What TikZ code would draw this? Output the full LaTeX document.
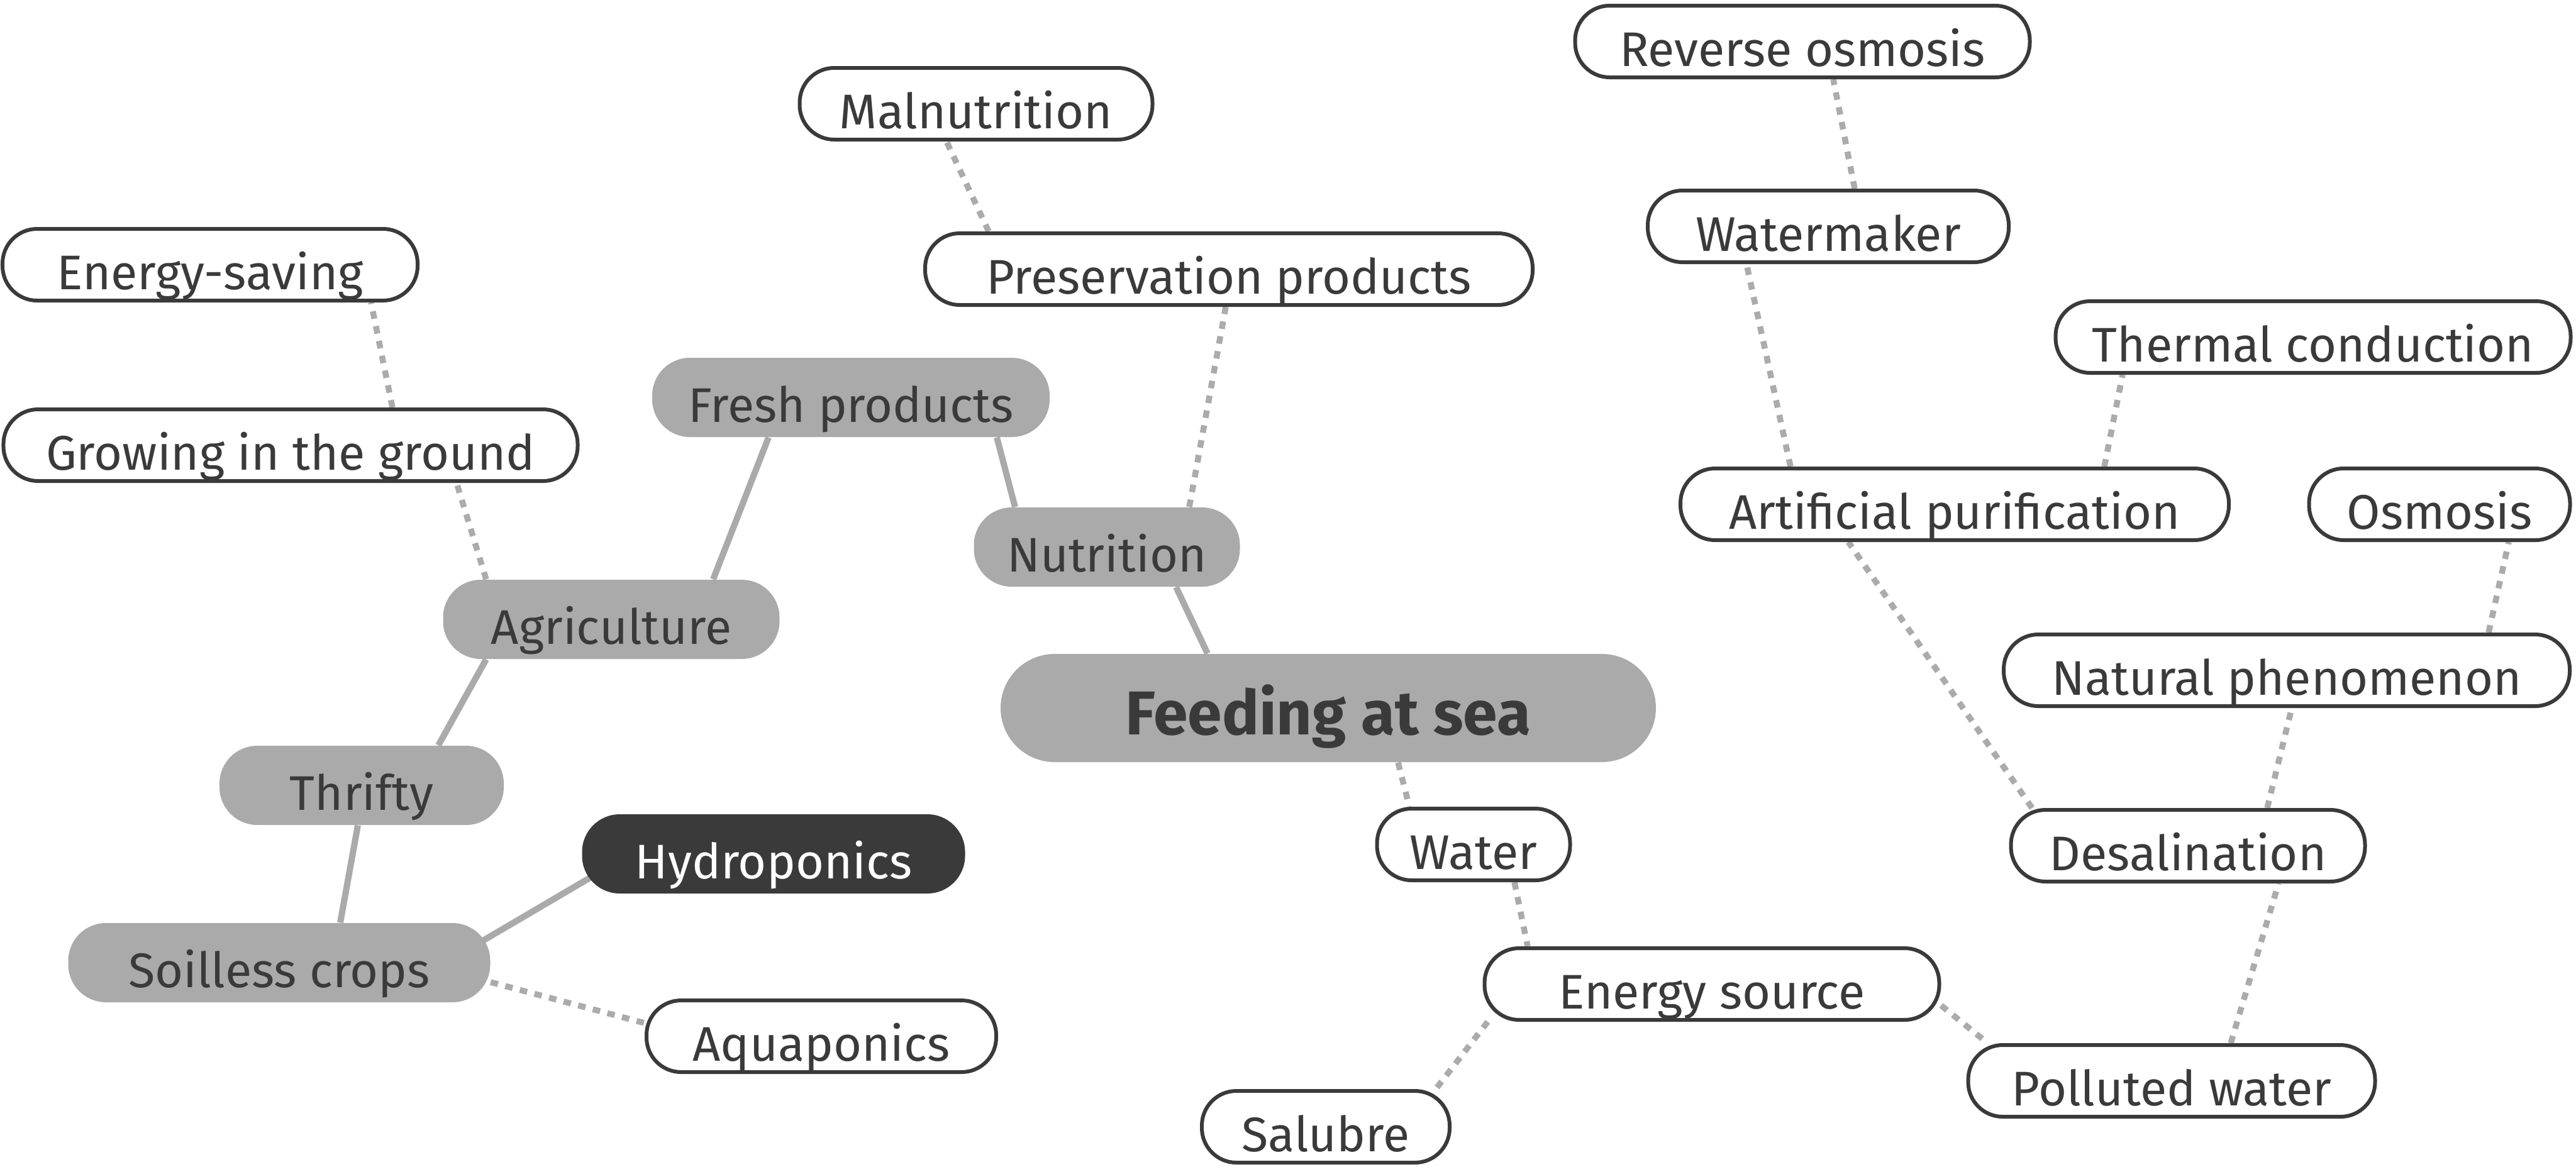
\documentclass[tikz,border=0pt]{standalone}
\usepackage{fontspec}
\setmainfont{Fira Sans}
\usepackage{tikz}
\usetikzlibrary{backgrounds}
\definecolor{inkgray}{HTML}{3A3A3A}
\definecolor{boxgray}{HTML}{AAAAAA}
\definecolor{linkgray}{HTML}{ABABAB}
\tikzstyle{topic} = [rectangle, rounded corners=0.6cm, minimum height=1.26cm, inner sep=0pt, text height=0.88cm, text depth=0.1cm, font=\fontsize{22}{26}\selectfont, text=inkgray]
\tikzstyle{branch} = [topic, fill=boxgray]
\tikzstyle{leaf} = [topic, fill=white, draw=inkgray, line width=0.06cm, minimum height=1.14cm, rounded corners=0.55cm]
\tikzstyle{focus} = [topic, fill=inkgray, text=white]
\tikzstyle{solidlink} = [boxgray, line width=0.1cm]
\tikzstyle{dotlink} = [linkgray, line width=0.095cm, dash pattern=on 0.12cm off 0.12cm]

\begin{document}
\begin{tikzpicture}
        \useasboundingbox (0,0) rectangle (40.96,-18.55);

        % Centre
        \node[branch, minimum width=10.42cm, minimum height=1.72cm, rounded corners=0.86cm, text height=1.0cm, text depth=0.16cm, font=\fontsize{28}{32}\selectfont\bfseries] (feed) at (21.12,-11.26) {Feeding at sea};

        % Left side
        \node[branch, minimum width=4.23cm] (nutr) at (17.60,-8.70) {Nutrition};
        \node[branch, minimum width=6.32cm] (fresh) at (13.53,-6.32) {Fresh products};
        \node[leaf, minimum width=9.66cm] (pres) at (19.54,-4.28) {Preservation products};
        \node[leaf, minimum width=5.61cm] (maln) at (15.52,-1.65) {Malnutrition};
        \node[branch, minimum width=5.35cm] (agri) at (9.72,-9.85) {Agriculture};
        \node[leaf, minimum width=9.13cm] (grow) at (4.62,-7.08) {Growing in the ground};
        \node[leaf, minimum width=6.60cm] (ener) at (3.34,-4.21) {Energy-saving};
        \node[branch, minimum width=4.52cm] (thri) at (5.75,-12.49) {Thrifty};
        \node[branch, minimum width=6.71cm] (soil) at (4.44,-15.31) {Soilless crops};
        \node[focus, minimum width=6.09cm] (hydr) at (12.30,-13.58) {Hydroponics};
        \node[leaf, minimum width=5.56cm] (aqua) at (13.06,-16.48) {Aquaponics};

        % Right side
        \node[leaf, minimum width=3.07cm] (watr) at (23.43,-13.43) {Water};
        \node[leaf, minimum width=7.23cm] (esrc) at (27.22,-15.65) {Energy source};
        \node[leaf, minimum width=3.94cm] (salu) at (21.08,-17.92) {Salubre};
        \node[leaf, minimum width=6.47cm] (poll) at (34.53,-17.19) {Polluted water};
        \node[leaf, minimum width=5.63cm] (desa) at (34.79,-13.45) {Desalination};
        \node[leaf, minimum width=9.00cm] (natu) at (36.36,-10.66) {Natural phenomenon};
        \node[leaf, minimum width=4.15cm] (osmo) at (38.79,-8.02) {Osmosis};
        \node[leaf, minimum width=8.72cm] (arti) at (31.08,-8.02) {Artificial purification};
        \node[leaf, minimum width=8.19cm] (ther) at (36.78,-5.36) {Thermal conduction};
        \node[leaf, minimum width=5.74cm] (wmkr) at (29.07,-3.60) {Watermaker};
        \node[leaf, minimum width=7.23cm] (revo) at (28.66,-0.66) {Reverse osmosis};

        \begin{scope}[on background layer]
        % Links - solid
        \draw[solidlink] ([xshift=-1.92cm]feed.north) -- ([xshift=1.10cm]nutr.south);
        \draw[solidlink] ([xshift=-1.46cm]nutr.north) -- ([xshift=2.32cm]fresh.south);
        \draw[solidlink] ([xshift=-1.31cm]fresh.south) -- ([xshift=1.62cm]agri.north);
        \draw[solidlink] ([xshift=-1.99cm]agri.south) -- ([xshift=1.22cm]thri.north);
        \draw[solidlink] ([xshift=-0.06cm]thri.south) -- ([xshift=0.97cm]soil.north);
        \draw[solidlink] ([xshift=-0.14cm,yshift=0.34cm]soil.east) -- ([xshift=0.15cm,yshift=-0.37cm]hydr.west);

        % Links - dotted
        \draw[dotlink] ([xshift=1.31cm]nutr.north) -- ([xshift=-0.05cm]pres.south);
        \draw[dotlink] ([xshift=-3.82cm]pres.north) -- ([xshift=-0.47cm]maln.south);
        \draw[dotlink] ([xshift=-1.99cm]agri.north) -- ([xshift=2.64cm]grow.south);
        \draw[dotlink] ([xshift=1.62cm]grow.north) -- ([xshift=2.56cm]ener.south);
        \draw[dotlink] ([yshift=-0.31cm]soil.east) -- ([yshift=0.21cm]aqua.west);
        \draw[dotlink] ([xshift=1.11cm]feed.south) -- ([xshift=-1.02cm]watr.north);
        \draw[dotlink] ([xshift=0.65cm]watr.south) -- ([xshift=-2.93cm]esrc.north);
        \draw[dotlink] ([xshift=0.08cm]esrc.south west) -- ([xshift=-0.25cm]salu.north east);
        \draw[dotlink] ([yshift=-0.34cm]esrc.east) -- ([xshift=0.34cm]poll.north west);
        \draw[dotlink] ([xshift=0.94cm]poll.north) -- ([xshift=1.44cm]desa.south);
        \draw[dotlink] ([xshift=1.26cm]desa.north) -- ([xshift=0.08cm]natu.south);
        \draw[dotlink] ([xshift=3.21cm]natu.north) -- ([xshift=1.10cm]osmo.south);
        \draw[dotlink] ([xshift=-2.48cm]desa.north) -- ([xshift=-1.69cm]arti.south);
        \draw[dotlink] ([xshift=-2.61cm]arti.north) -- ([xshift=-1.30cm]wmkr.south);
        \draw[dotlink] ([xshift=0.42cm]wmkr.north) -- ([xshift=0.49cm]revo.south);
        \draw[dotlink] ([xshift=2.38cm]arti.north) -- ([xshift=-3.03cm]ther.south);
        \end{scope}
      \end{tikzpicture}
\end{document}
